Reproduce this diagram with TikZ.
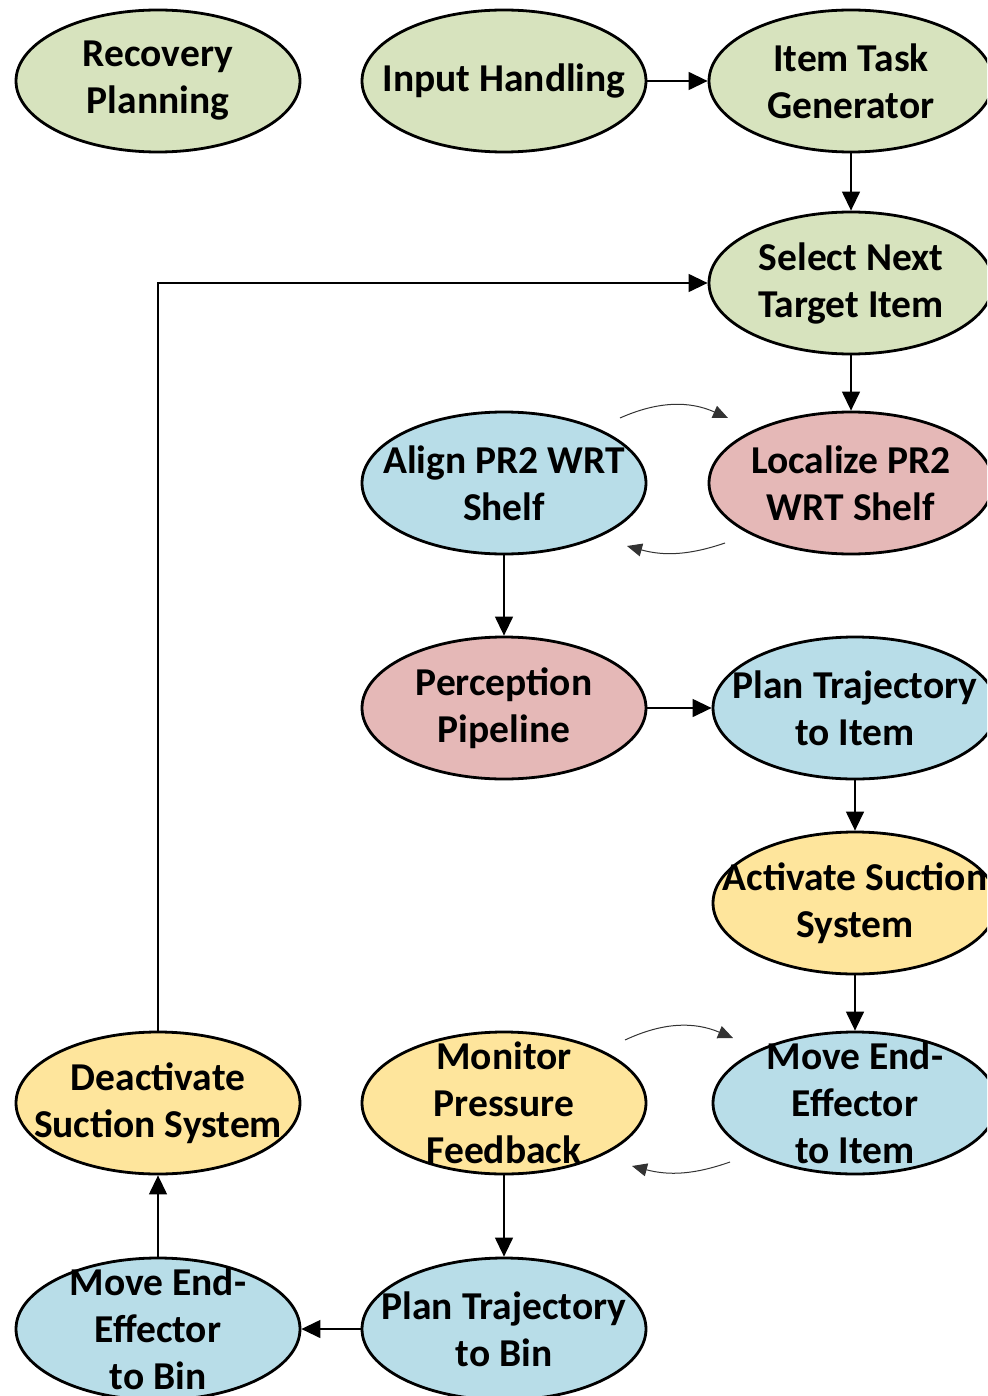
\documentclass[tikz,border=0pt]{standalone}
\usepackage{fontspec}
\setmainfont{Carlito}
\usetikzlibrary{shapes.geometric,arrows.meta,calc}

\definecolor{stgreen}{HTML}{D7E3BE}
\definecolor{stblue}{HTML}{B8DDE8}
\definecolor{stpink}{HTML}{E5B8B7}
\definecolor{styellow}{HTML}{FEE59C}

\tikzset{
  stage/.style={ellipse, draw=black, line width=2.8pt, minimum width=284pt,
    minimum height=142pt, inner sep=0pt},
  lbl/.style={align=center, inner sep=0pt, font=\fontsize{39.5}{47}\selectfont\bfseries},
  flow/.style={line width=1.3pt, -{Triangle[length=19pt,width=18pt]}},
  loop/.style={line width=1pt, draw=black!70, -{Triangle[length=15pt,width=13pt]}, black!80},
}

\begin{document}
\begin{tikzpicture}[x=1pt, y=-1pt]
\clip (0,0) rectangle (987,1396);

% stages
\node[stage, fill=stgreen]  (rec) at (158,81)  {};
\node[stage, fill=stgreen]  (inp) at (504,81)  {};
\node[stage, fill=stgreen]  (itg) at (851,81)  {};
\node[stage, fill=stgreen]  (sel) at (851,283) {};
\node[stage, fill=stblue]   (aln) at (504,483) {};
\node[stage, fill=stpink]   (loc) at (851,483) {};
\node[stage, fill=stpink]   (per) at (504,708) {};
\node[stage, fill=stblue]   (pti) at (855,708) {};
\node[stage, fill=styellow] (act) at (855,903) {};
\node[stage, fill=styellow] (dea) at (158,1103) {};
\node[stage, fill=styellow] (mon) at (504,1103) {};
\node[stage, fill=stblue]   (mei) at (855,1103) {};
\node[stage, fill=stblue]   (meb) at (158,1329) {};
\node[stage, fill=stblue]   (ptb) at (504,1329) {};

% labels
\node[lbl] at (rec) {Recovery\\Planning};
\node[lbl] at (inp) {Input Handling};
\node[lbl] at (itg) {Item Task\\Generator};
\node[lbl] at (sel) {Select Next\\Target Item};
\node[lbl] at (aln) {Align PR2 WRT\\Shelf};
\node[lbl] at (loc) {Localize PR2\\WRT Shelf};
\node[lbl] at (per) {Perception\\Pipeline};
\node[lbl] at (pti) {Plan Trajectory\\to Item};
\node[lbl] at (act) {Activate Suction\\System};
\node[lbl] at (dea) {Deactivate\\Suction System};
\node[lbl] at (mon) {Monitor\\Pressure\\Feedback};
\node[lbl] at (mei) {Move End-\\Effector\\to Item};
\node[lbl] at (meb) {Move End-\\Effector\\to Bin};
\node[lbl] at (ptb) {Plan Trajectory\\to Bin};

% main flow
\draw[flow] (inp) -- (itg);
\draw[flow] (itg) -- (sel);
\draw[flow] (sel) -- (loc);
\draw[flow] (aln) -- (per);
\draw[flow] (per) -- (pti);
\draw[flow] (pti) -- (act);
\draw[flow] (act) -- (mei);
\draw[flow] (mon) -- (ptb);
\draw[flow] (ptb) -- (meb);
\draw[flow] (meb) -- (dea);
\draw[flow] (dea.north) |- (sel.west);

% feedback loops between paired stages
\coordinate (l1a) at (620,418);
\coordinate (l1b) at (728,418);
\coordinate (l2a) at (725,543);
\coordinate (l2b) at (627,546);
\coordinate (l3a) at (625,1040);
\coordinate (l3b) at (733,1038);
\coordinate (l4a) at (730,1162);
\coordinate (l4b) at (632,1166);
\draw[loop] (l1a) to[bend left=24] (l1b);
\draw[loop] (l2a) to[bend left=17] (l2b);
\draw[loop] (l3a) to[bend left=24] (l3b);
\draw[loop] (l4a) to[bend left=17] (l4b);
\end{tikzpicture}
\end{document}
